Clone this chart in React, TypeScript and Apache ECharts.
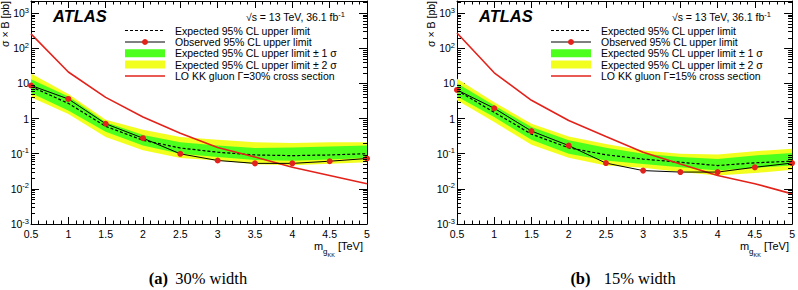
import React, { useEffect, useRef } from 'react';
import * as echarts from 'echarts';

// ---------- data ----------
const MASS = [0.5, 1, 1.5, 2, 2.5, 3, 3.5, 4, 4.5, 5];

// (a) 30% width
const OBS_30 = [8.7, 3.6, 0.71, 0.276, 0.099, 0.064, 0.053, 0.053, 0.061, 0.073];
const EXP_30 = [8.1, 2.7, 0.6, 0.24, 0.145, 0.11, 0.092, 0.088, 0.092, 0.1];
const P1_30 = [13, 4.2, 0.78, 0.34, 0.21, 0.17, 0.145, 0.15, 0.16, 0.17];
const M1_30 = [5.3, 1.7, 0.42, 0.17, 0.1, 0.08, 0.066, 0.063, 0.068, 0.075];
const P2_30 = [19, 5.0, 0.92, 0.48, 0.3, 0.25, 0.21, 0.2, 0.21, 0.21];
const M2_30 = [4.0, 1.35, 0.3, 0.125, 0.075, 0.064, 0.05, 0.047, 0.052, 0.057];
const XSEC_30 = [255, 21, 4.0, 1.1, 0.38, 0.15, 0.08, 0.041, 0.024, 0.014];

// (b) 15% width
const OBS_15 = [6.5, 1.96, 0.44, 0.17, 0.054, 0.033, 0.03, 0.03, 0.041, 0.054];
const EXP_15 = [6.3, 1.5, 0.36, 0.147, 0.093, 0.07, 0.057, 0.046, 0.055, 0.061];
const P1_15 = [10, 2.35, 0.57, 0.24, 0.147, 0.1, 0.08, 0.071, 0.089, 0.105];
const M1_15 = [4.2, 1.1, 0.25, 0.1, 0.064, 0.051, 0.041, 0.033, 0.04, 0.046];
const P2_15 = [13.5, 2.9, 0.71, 0.31, 0.19, 0.123, 0.1, 0.095, 0.118, 0.137];
const M2_15 = [3.3, 0.79, 0.18, 0.076, 0.046, 0.04, 0.03, 0.024, 0.028, 0.035];
const XSEC_15 = [270, 20, 3.3, 0.88, 0.31, 0.11, 0.051, 0.024, 0.014, 0.0072];

const X_TICKS_MIN = 0.5;
const X_TICKS_MAX = 5;
const Y_MIN = 1e-3;
const Y_MAX = 2200;
const MINOR_MULT = [2, 3, 4, 5, 6, 7, 8, 9];
const DECADES = [-3, -2, -1, 0, 1, 2, 3];

const LEGEND_LABELS_30 = [
  'Expected 95% CL upper limit',
  'Observed 95% CL upper limit',
  'Expected 95% CL upper limit \u00b1 1 \u03c3',
  'Expected 95% CL upper limit \u00b1 2 \u03c3',
  'LO KK gluon \u0393=30% cross section',
];
const LEGEND_LABELS_15 = [
  'Expected 95% CL upper limit',
  'Observed 95% CL upper limit',
  'Expected 95% CL upper limit \u00b1 1 \u03c3',
  'Expected 95% CL upper limit \u00b1 2 \u03c3',
  'LO KK gluon \u0393=15% cross section',
];

// ---------- style ----------
const W = 798;
const H = 290;
const FONT = 'Liberation Sans, Arial, Helvetica, sans-serif';
const SERIF = 'Liberation Serif, Times New Roman, serif';
const GREEN = '#4cff1c';
const YELLOW = '#f2ff1e';
const RED = '#e3231b';

const MINOR_VALUES: number[] = [];
DECADES.forEach((d) =>
  MINOR_MULT.forEach((m) => {
    const v = m * Math.pow(10, d);
    if (v < Y_MAX) MINOR_VALUES.push(v);
  })
);

const panels = [
  { obs: OBS_30, exp: EXP_30, p1: P1_30, m1: M1_30, p2: P2_30, m2: M2_30, xsec: XSEC_30, legend: LEGEND_LABELS_30, caption: '(a)', capText: '30% width', dx: 0, capX: 198, capGap: 3 },
  { obs: OBS_15, exp: EXP_15, p1: P1_15, m1: M1_15, p2: P2_15, m2: M2_15, xsec: XSEC_15, legend: LEGEND_LABELS_15, caption: '(b)', capText: '15% width', dx: 426, capX: 623, capGap: 9 },
];

function band(upper: number[], lower: number[], color: string, gi: number) {
  return {
    type: 'custom',
    xAxisIndex: gi * 2,
    yAxisIndex: gi * 2,
    data: [[MASS[0], upper[0]]],
    z: 1,
    silent: true,
    renderItem: (_p: any, api: any) => {
      const pts: number[][] = [];
      MASS.forEach((m, i) => pts.push(api.coord([m, upper[i]])));
      for (let i = MASS.length - 1; i >= 0; i--) pts.push(api.coord([MASS[i], lower[i]]));
      return { type: 'polygon', shape: { points: pts }, style: { fill: color, stroke: null } };
    },
  };
}

function buildOption() {
  const grid: any[] = [];
  const xAxis: any[] = [];
  const yAxis: any[] = [];
  const series: any[] = [];
  const graphic: any[] = [];

  panels.forEach((p, gi) => {
    grid.push({ left: 31 + p.dx, top: 1, width: 336, height: 223, show: false });
    const xBase = {
      type: 'value', gridIndex: gi, min: X_TICKS_MIN, max: X_TICKS_MAX, interval: 0.5,
      axisLine: { show: true, onZero: false, lineStyle: { color: '#000', width: 1 } },
      axisTick: { show: true, inside: true, length: 7, lineStyle: { color: '#000' } },
      minorTick: { show: true, splitNumber: 5, length: 3.5, lineStyle: { color: '#000' } },
      splitLine: { show: false },
    };
    xAxis.push({
      ...xBase, position: 'bottom',
      axisLabel: { show: true, color: '#000', fontSize: 10.5, fontFamily: FONT, margin: 4 },
    });
    xAxis.push({ ...xBase, position: 'top', axisLabel: { show: false } });
    const yBase = {
      type: 'log', logBase: 10, gridIndex: gi, min: Y_MIN, max: Y_MAX,
      axisLine: { show: true, onZero: false, lineStyle: { color: '#000', width: 1 } },
      axisTick: { show: true, inside: true, length: 8, lineStyle: { color: '#000' } },
      splitLine: { show: false },
    };
    yAxis.push({
      ...yBase, position: 'left',
      axisLabel: {
        show: true, color: '#000', fontSize: 10.5, fontFamily: FONT, margin: 2, showMaxLabel: false, lineHeight: 14,
        formatter: (v: number) => {
          const e = Math.round(Math.log10(v));
          if (e === 0) return '1';
          if (e === 1) return '10';
          return '10{sup|' + e + '}';
        },
        rich: { sup: { fontSize: 7.5, fontFamily: FONT, color: '#000', lineHeight: 8, verticalAlign: 'top' } },
      },
    });
    yAxis.push({ ...yBase, position: 'right', axisLabel: { show: false } });

    series.push(band(p.p2, p.m2, YELLOW, gi));
    series.push(band(p.p1, p.m1, GREEN, gi));
    series.push({
      type: 'line', xAxisIndex: gi * 2, yAxisIndex: gi * 2, z: 3,
      data: MASS.map((m, i) => [m, p.exp[i]]),
      symbol: 'none', lineStyle: { color: '#000', width: 1.2, type: [3, 2] }, silent: true,
    });
    series.push({
      type: 'line', xAxisIndex: gi * 2, yAxisIndex: gi * 2, z: 4,
      data: MASS.map((m, i) => [m, p.xsec[i]]),
      symbol: 'none', lineStyle: { color: RED, width: 1.6 }, silent: true,
    });
    series.push({
      type: 'line', xAxisIndex: gi * 2, yAxisIndex: gi * 2, z: 5, clip: false,
      data: MASS.map((m, i) => [m, p.obs[i]]),
      symbol: 'circle', symbolSize: 6, showSymbol: true,
      itemStyle: { color: RED, borderWidth: 0 },
      lineStyle: { color: '#000', width: 1 }, silent: true,
    });
    series.push({
      type: 'custom', xAxisIndex: gi * 2, yAxisIndex: gi * 2, z: 6, silent: true,
      data: MINOR_VALUES.map((v) => [X_TICKS_MIN, v]),
      renderItem: (_p: any, api: any) => {
        const v = api.value(1);
        const pl = api.coord([X_TICKS_MIN, v]);
        const pr = api.coord([X_TICKS_MAX, v]);
        const y = Math.round(pl[1]) + 0.5;
        return {
          type: 'group',
          children: [
            { type: 'line', shape: { x1: pl[0], y1: y, x2: pl[0] + 4, y2: y }, style: { stroke: '#000', lineWidth: 1 } },
            { type: 'line', shape: { x1: pr[0], y1: y, x2: pr[0] - 4, y2: y }, style: { stroke: '#000', lineWidth: 1 } },
          ],
        };
      },
    });

    const dx = p.dx;
    // ATLAS label
    graphic.push({ type: 'text', x: 53 + dx, y: 16, style: { text: 'ATLAS', fontSize: 16.5, fontWeight: 'bold', fontStyle: 'italic', fontFamily: FONT, fill: '#000', verticalAlign: 'middle' } });
    // sqrt(s)
    graphic.push({
      type: 'text', x: 345 + dx, y: 17,
      style: {
        text: '\u221as = 13 TeV, 36.1 fb{sup|-1}', align: 'right', verticalAlign: 'middle', fontSize: 10.5, fontFamily: FONT, fill: '#000', lineHeight: 14,
        rich: { sup: { fontSize: 7.5, fontFamily: FONT, fill: '#000', lineHeight: 8, verticalAlign: 'top' } },
      },
    });
    // legend
    const rows = [30.5, 42, 53.3, 64.5, 76];
    const lx1 = 125 + dx;
    const lx2 = 165 + dx;
    graphic.push({ type: 'line', shape: { x1: lx1, y1: rows[0], x2: lx2, y2: rows[0] }, style: { stroke: '#000', lineWidth: 1.2, lineDash: [3, 2] } });
    graphic.push({ type: 'line', shape: { x1: lx1, y1: rows[1], x2: lx2, y2: rows[1] }, style: { stroke: '#000', lineWidth: 1 } });
    graphic.push({ type: 'circle', shape: { cx: (lx1 + lx2) / 2, cy: rows[1], r: 3 }, style: { fill: RED } });
    graphic.push({ type: 'rect', shape: { x: lx1, y: rows[2] - 4, width: 40, height: 8 }, style: { fill: GREEN } });
    graphic.push({ type: 'rect', shape: { x: lx1, y: rows[3] - 4, width: 40, height: 8 }, style: { fill: YELLOW } });
    graphic.push({ type: 'line', shape: { x1: lx1, y1: rows[4], x2: lx2, y2: rows[4] }, style: { stroke: RED, lineWidth: 1.6 } });
    p.legend.forEach((t, i) => {
      graphic.push({ type: 'text', x: 175 + dx, y: rows[i], style: { text: t, fontSize: 10.5, fontFamily: FONT, fill: '#000', verticalAlign: 'middle' } });
    });
    // y title
    graphic.push({ type: 'text', x: 5 + dx, y: 1, rotation: Math.PI / 2, style: { text: '\u03c3 \u00d7 B [pb]', align: 'right', verticalAlign: 'middle', fontSize: 10.5, fontFamily: FONT, fill: '#000' } });
    // x title
    graphic.push({
      type: 'text', x: 363 + dx, y: 240,
      style: {
        text: '{m|m}{g|g}{k|KK}{m| [TeV]}', align: 'right', verticalAlign: 'top', fill: '#000', fontFamily: FONT, fontSize: 11,
        rich: {
          m: { fontSize: 11, fontFamily: FONT, lineHeight: 14, verticalAlign: 'top' },
          g: { fontSize: 8, fontFamily: FONT, lineHeight: 8, padding: [7, 0, 0, 0], verticalAlign: 'top' },
          k: { fontSize: 5.5, fontFamily: FONT, lineHeight: 6, padding: [12, 0, 0, 0], verticalAlign: 'top' },
        },
      },
    });
    // caption
    graphic.push({
      type: 'text', x: p.capX, y: 278,
      style: {
        text: '{b|' + p.caption + '} ' + p.capText, align: 'center', verticalAlign: 'middle', fontFamily: SERIF, fontSize: 16.5, fill: '#000',
        rich: { b: { fontFamily: SERIF, fontSize: 16.5, fontWeight: 'bold', fill: '#000', padding: [0, p.capGap, 0, 0] } },
      },
    });
  });

  return { animation: false, backgroundColor: '#fff', grid, xAxis, yAxis, series, graphic };
}

export default function App() {
  const ref = useRef<HTMLDivElement>(null);
  useEffect(() => {
    const chart = echarts.init(ref.current!, null, { renderer: 'svg', width: W, height: H });
    chart.setOption(buildOption() as any);
    return () => chart.dispose();
  }, []);
  return <div ref={ref} style={{ position: 'absolute', left: 0, top: 0, width: W, height: H }} />;
}
